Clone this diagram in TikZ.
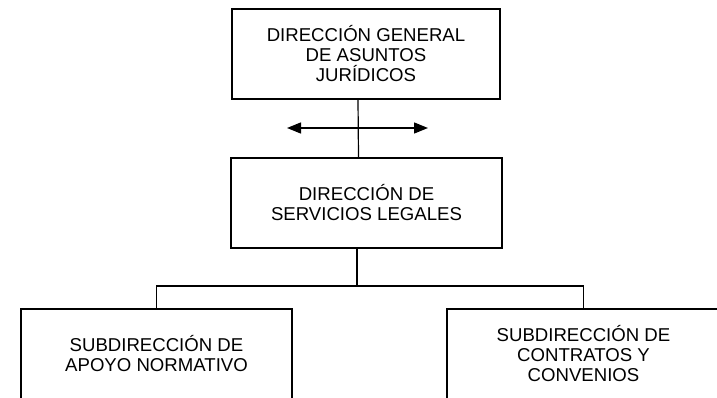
\documentclass[tikz,border=0pt]{standalone}
\usepackage{fontspec}
\setmainfont{Liberation Sans}
\usepackage{tikz}
\usetikzlibrary{arrows.meta}
\usetikzlibrary{positioning}
\usetikzlibrary{calc}
\tikzset{
	unit/.style={draw, line width=1.2pt, minimum height=90pt, align=center, inner sep=0pt,
		font=\fontsize{18.6}{20}\selectfont},
	link/.style={line width=1.2pt},
	twoway/.style={line width=1.4pt, {Triangle[length=14pt,width=11pt]}-{Triangle[length=14pt,width=11pt]}}
}
\begin{document}
\begin{tikzpicture}[x=1pt,y=-1pt]
	\clip (0,0) rectangle (717,398);
	\node[unit, minimum width=268pt] (dgaj) at (366,54) {DIRECCIÓN GENERAL\\DE ASUNTOS\\JURÍDICOS};
	\node[unit, minimum width=271pt] (dsl) at (366.5,203) {DIRECCIÓN DE\\SERVICIOS LEGALES};
	\node[unit, minimum width=271pt] (san) at (156.5,354) {SUBDIRECCIÓN DE\\APOYO NORMATIVO};
	\node[unit, minimum width=273pt] (scc) at (583.5,354) {SUBDIRECCIÓN DE\\CONTRATOS Y\\CONVENIOS};
	\coordinate (izq) at (287,128);
	\coordinate (der) at (428,128);
	\coordinate (bus) at (357,286);
	\draw[link] ([xshift=-8pt]dgaj.south) -- ([xshift=-8pt]dsl.north);
	\draw[twoway] (izq) -- (der);
	\draw[link] ([xshift=-9.5pt]dsl.south) -- (bus);
	\draw[link] (san.north) |- (bus) -| (scc.north);
\end{tikzpicture}
\end{document}
